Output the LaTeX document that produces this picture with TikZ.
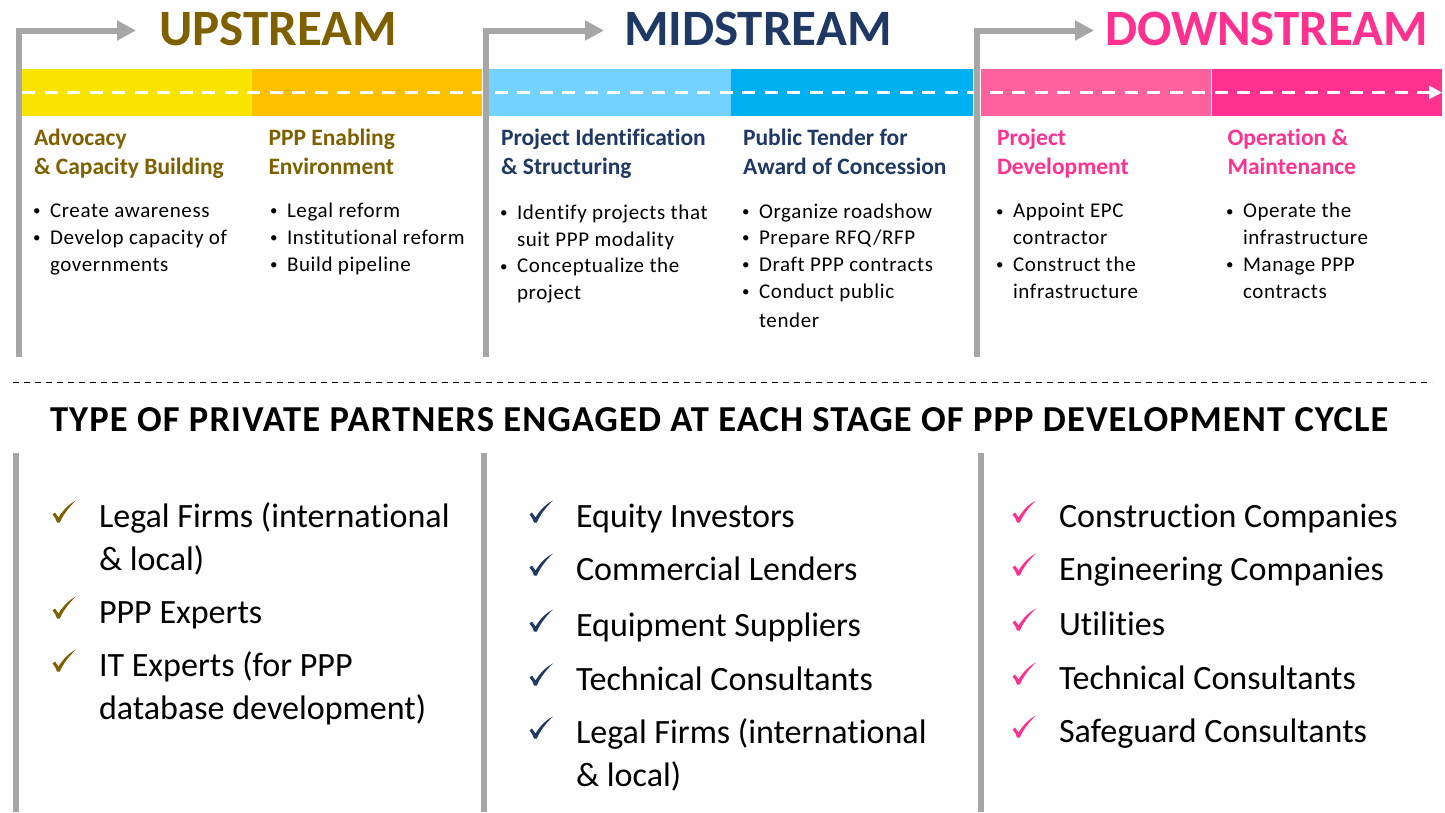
\documentclass[tikz,border=0pt]{standalone}
\usepackage{fontspec}
\setmainfont[Ligatures=NoCommon]{Carlito}
\newfontfamily\spacedfont[LetterSpace=3,Ligatures=NoCommon]{Carlito}
\usetikzlibrary{arrows.meta}
\definecolor{upc}{HTML}{7F6000}
\definecolor{midc}{HTML}{1F3864}
\definecolor{downc}{HTML}{FF3190}
\definecolor{grayc}{HTML}{A6A6A6}
\definecolor{bandA}{HTML}{F9E300}
\definecolor{bandB}{HTML}{FFC000}
\definecolor{bandC}{HTML}{73D2FF}
\definecolor{bandD}{HTML}{00B0F0}
\definecolor{bandE}{HTML}{FF619F}
\definecolor{bandF}{HTML}{FF3190}
\tikzset{
  x=1pt,y=-1pt,
  txt/.style={anchor=base west,inner sep=0pt,outer sep=0pt,align=left},
  stream/.style={txt,font=\fontsize{51}{51}\selectfont\bfseries},
  subhead/.style={txt,font=\fontsize{23.5}{29}\selectfont\bfseries},
  bul/.style={txt,font=\spacedfont\fontsize{21}{26.7}\selectfont},
  item/.style={txt,font=\fontsize{34.05}{43}\selectfont},
  title/.style={txt,font=\spacedfont\fontsize{36.55}{40}\selectfont\bfseries},
  elbow/.style={draw=grayc,line width=6pt,miter limit=10,-{Triangle[length=19pt,width=19pt]}},
  rail/.style={draw=grayc,line width=6pt},
  band/.style={inner sep=0pt,outer sep=0pt,minimum height=47pt,anchor=north west},
  tick/.pic={\fill[pic actions] (-6.5,-7.5) -- (-4,-9.5) -- (-0.5,-4.5) .. controls (4,-12) and (10,-18) .. (17,-21.5) .. controls (10,-15) and (4,-7) .. (0.8,0.5) -- (-2,0.5) .. controls (-3,-3) and (-4.5,-5.5) .. cycle;}
}
\newcommand{\bu}[1]{\llap{\raisebox{1.6pt}{\fontsize{15}{15}\selectfont •}\hspace{9.5pt}}#1}
\begin{document}
\begin{tikzpicture}
\useasboundingbox (0,0) rectangle (1445,812);
% bands
\node[band,fill=bandA,minimum width=230pt] (b1) at (22,69) {};
\node[band,fill=bandB,minimum width=230pt] (b2) at (252,69) {};
\node[band,fill=bandC,minimum width=242pt] (b3) at (489,69) {};
\node[band,fill=bandD,minimum width=242pt] (b4) at (731,69) {};
\node[band,fill=bandE,minimum width=230pt] (b5) at (981,69) {};
\node[band,fill=bandF,minimum width=230pt] (b6) at (1212,69) {};
\draw[white,line width=2.5pt,dash pattern=on 13pt off 9.5pt,-{Triangle[length=13pt,width=13pt]}] (b1.west) -- (b6.east);
% elbows
\coordinate (e1a) at (18.5,357); \coordinate (e1b) at (136,30.5);
\coordinate (e2a) at (486,357); \coordinate (e2b) at (604,30.5);
\coordinate (e3a) at (977,357); \coordinate (e3b) at (1094,30.5);
\draw[elbow] (e1a) |- (e1b);
\draw[elbow] (e2a) |- (e2b);
\draw[elbow] (e3a) |- (e3b);
% stream titles
\node[stream,text=upc] (upstream) at (159,45) {UPSTREAM};
\node[stream,text=midc] (midstream) at (624,45) {MIDSTREAM};
\node[stream,text=downc] (downstream) at (1105,45) {DOWNSTREAM};
% sub heads
\node[subhead,text=upc] (h1) at (34,174) {Advocacy\\\& Capacity Building};
\node[subhead,text=upc] (h2) at (268.5,174) {PPP Enabling\\Environment};
\node[subhead,text=midc] (h3) at (501,174) {Project Identification\\\& Structuring};
\node[subhead,text=midc] (h4) at (743,174) {Public Tender for\\Award of Concession};
\node[subhead,text=downc] (h5) at (997,174) {Project\\Development};
\node[subhead,text=downc] (h6) at (1227.5,174) {Operation \&\\Maintenance};
% bullets
\node[bul] (b11) at (50,217) {\bu{Create awareness}};
\node[bul] (b12) at (50,271) {\bu{Develop capacity of}\\governments};
\node[bul] (b21) at (287,217) {\bu{Legal reform}};
\node[bul] (b22) at (287,244) {\bu{Institutional reform}};
\node[bul] (b23) at (287,271) {\bu{Build pipeline}};
\node[bul] (b31) at (517,246) {\bu{Identify projects that}\\suit PPP modality};
\node[bul] (b32) at (517,299.5) {\bu{Conceptualize the}\\project};
\node[bul] (b41) at (759,218) {\bu{Organize roadshow}};
\node[bul] (b42) at (759,244) {\bu{Prepare RFQ/RFP}};
\node[bul] (b43) at (759,271) {\bu{Draft PPP contracts}};
\node[bul] (b44) at (759,298) {\bu{Conduct public}};
\node[bul] (b45) at (759,327) {tender};
\node[bul] (b51) at (1013,244.5) {\bu{Appoint EPC}\\contractor};
\node[bul] (b52) at (1013,298) {\bu{Construct the}\\infrastructure};
\node[bul] (b61) at (1243,244.5) {\bu{Operate the}\\infrastructure};
\node[bul] (b62) at (1243,298) {\bu{Manage PPP}\\contracts};
% separator
\coordinate (sa) at (13,382); \coordinate (sb) at (1432,382);
\draw[black,line width=0.9pt,dash pattern=on 6pt off 5pt] (sa) -- (sb);
\node[title] (ttl) at (50,431) {TYPE OF PRIVATE PARTNERS ENGAGED AT EACH STAGE OF PPP DEVELOPMENT CYCLE};
% rails
\coordinate (r1a) at (16,453); \coordinate (r1b) at (16,812);
\coordinate (r2a) at (484,453); \coordinate (r2b) at (484,812);
\coordinate (r3a) at (981,453); \coordinate (r3b) at (981,812);
\draw[rail] (r1a) -- (r1b);
\draw[rail] (r2a) -- (r2b);
\draw[rail] (r3a) -- (r3b);
% lists
\pic[upc] at (59,522) {tick};
\pic[upc] at (59,618) {tick};
\pic[upc] at (59,671) {tick};
\node[item] (i11) at (99,570) {Legal Firms (international\\\& local)};
\node[item] (i12) at (99,623) {PPP Experts};
\node[item] (i13) at (99,719) {IT Experts (for PPP\\database development)};
\pic[midc] at (536,522) {tick};
\pic[midc] at (536,575) {tick};
\pic[midc] at (536,631) {tick};
\pic[midc] at (536,685) {tick};
\pic[midc] at (536,738) {tick};
\node[item] (i21) at (576,527) {Equity Investors};
\node[item] (i22) at (576,580) {Commercial Lenders};
\node[item] (i23) at (576,636) {Equipment Suppliers};
\node[item] (i24) at (576,690) {Technical Consultants};
\node[item] (i25) at (576,786) {Legal Firms (international\\\& local)};
\pic[downc] at (1019,522) {tick};
\pic[downc] at (1019,575) {tick};
\pic[downc] at (1019,630) {tick};
\pic[downc] at (1019,684) {tick};
\pic[downc] at (1019,737) {tick};
\node[item] (i31) at (1059,527) {Construction Companies};
\node[item] (i32) at (1059,580) {Engineering Companies};
\node[item] (i33) at (1059,635) {Utilities};
\node[item] (i34) at (1059,689) {Technical Consultants};
\node[item] (i35) at (1059,742) {Safeguard Consultants};
\end{tikzpicture}
\end{document}
